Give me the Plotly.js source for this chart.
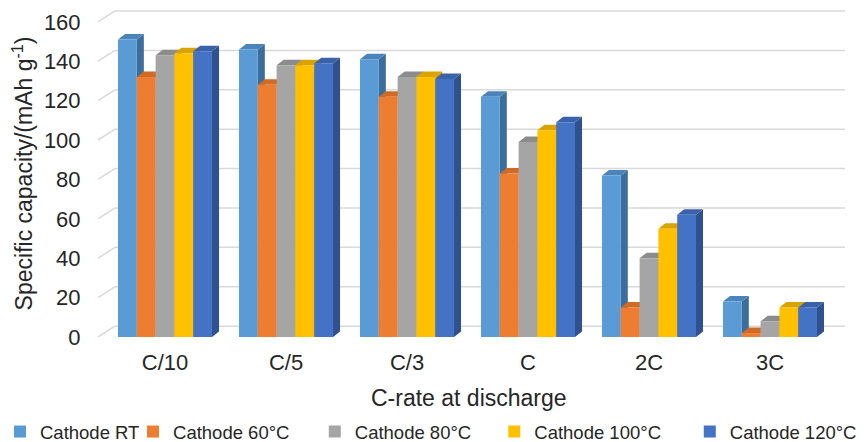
<!DOCTYPE html>
<html>
<head>
<meta charset="utf-8">
<script src="https://cdn.plot.ly/plotly-3.0.1.min.js"></script>
<style>html,body{margin:0;padding:0;background:#fff;}#chart{width:864px;height:442px;}</style>
</head>
<body>
<div id="chart"></div>
<script>
// ---- data ----
const categories = ["C/10", "C/5", "C/3", "C", "2C", "3C"];
const seriesNames = ["Cathode RT", "Cathode 60°C", "Cathode 80°C", "Cathode 100°C", "Cathode 120°C"];
const cathodeRT   = [151, 146, 141, 122, 82, 18];
const cathode60   = [132, 128, 122, 83, 15, 2];
const cathode80   = [143, 138, 132, 99, 40, 8];
const cathode100  = [144, 138, 132, 105, 55, 15];
const cathode120  = [145, 139, 131, 109, 62, 15];
const yTicks = [0, 20, 40, 60, 80, 100, 120, 140, 160];
const xTitle = "C-rate at discharge";
const yTitle = "Specific capacity/(mAh g<sup>-1</sup>)";

// ---- styles ----
const faceColors = ["#5B9BD5", "#ED7D31", "#A5A5A5", "#FFC000", "#4472C4"];
const sideColors = ["#3C6E9C", "#B0571C", "#777777", "#BF8F00", "#2F528F"];
const topColors  = ["#4A84BA", "#CF6A27", "#8C8C8C", "#D9A300", "#3A62AA"];
const legendX    = [-0.154, 0.0469, 0.2902, 0.5305, 0.7922];
const allSeries = [cathodeRT, cathode60, cathode80, cathode100, cathode120];

const bargap = 0.223;
const nSeries = allSeries.length;
const groupW = 1 - bargap;
const barW = groupW / nSeries;
const dx = 0.058;   // depth in category units
const dy = 2.8;     // depth in value units
const wallDx = 0.14, wallDy = 5.5;
const xLeft = -0.554, xRight = 5.62;

const xIdx = categories.map((c, i) => i);
const legendIds = allSeries.map((s, j) => j === 0 ? "legend" : "legend" + (j + 1));

const traces = allSeries.map((vals, j) => ({
  type: "bar",
  name: seriesNames[j],
  legend: legendIds[j],
  x: xIdx,
  y: vals,
  marker: {color: faceColors[j], line: {width: 0}},
  hoverinfo: "x+y+name"
}));

const shapes = [];
// back wall gridlines and left side-wall diagonals
yTicks.forEach(v => {
  shapes.push({type: "line", xref: "x", yref: "y", layer: "below",
    x0: xLeft + wallDx, x1: xRight, y0: v + wallDy, y1: v + wallDy,
    line: {color: "#D9D9D9", width: 1.5}});
  shapes.push({type: "line", xref: "x", yref: "y", layer: "below",
    x0: xLeft, x1: xLeft + wallDx, y0: v, y1: v + wallDy,
    line: {color: "#D9D9D9", width: 1.5}});
});
// 3D side and top faces of bars
allSeries.forEach((vals, j) => {
  vals.forEach((v, i) => {
    const xl = i - groupW / 2 + j * barW;
    const xr = xl + barW;
    shapes.push({type: "path", xref: "x", yref: "y", layer: "below",
      path: `M${xr},0 L${xr + dx},${dy} L${xr + dx},${v + dy} L${xr},${v} Z`,
      fillcolor: sideColors[j], line: {width: 0}});
    shapes.push({type: "path", xref: "x", yref: "y", layer: "below",
      path: `M${xl},${v} L${xl + dx},${v + dy} L${xr + dx},${v + dy} L${xr},${v} Z`,
      fillcolor: topColors[j], line: {width: 0}});
  });
});

const layout = {
  width: 864, height: 442,
  margin: {l: 98, r: 19, t: 10, b: 105},
  paper_bgcolor: "#fff", plot_bgcolor: "rgba(0,0,0,0)",
  barmode: "group", bargap: bargap, bargroupgap: 0,
  font: {family: "Liberation Sans, Arial, sans-serif", color: "#262626"},
  xaxis: {
    range: [xLeft, xRight], tickvals: xIdx, ticktext: categories,
    showgrid: false, zeroline: false, showline: false,
    ticks: "outside", ticklen: 6, tickcolor: "rgba(0,0,0,0)",
    tickfont: {size: 22}, automargin: false
  },
  yaxis: {
    range: [0, 166], tickvals: yTicks,
    showgrid: false, zeroline: false, showline: false,
    ticks: "outside", ticklen: 12, tickcolor: "rgba(0,0,0,0)",
    tickfont: {size: 22}, automargin: false,
    title: {text: yTitle, font: {size: 23}, standoff: 4}
  },
  annotations: [{
    text: xTitle, xref: "paper", yref: "paper", x: 0.497, y: -0.187,
    xanchor: "center", yanchor: "middle", showarrow: false,
    font: {size: 23, color: "#262626"}
  }],
  shapes: shapes,
  showlegend: true
};
legendIds.forEach((id, j) => {
  layout[id] = {
    orientation: "h", xref: "paper", yref: "container",
    x: legendX[j], y: 0.0226, xanchor: "left", yanchor: "middle",
    font: {size: 18.5, color: "#262626"}, itemclick: false,
    bgcolor: "rgba(0,0,0,0)"
  };
});

Plotly.newPlot("chart", traces, layout, {displayModeBar: false, staticPlot: true});
</script>
</body>
</html>
